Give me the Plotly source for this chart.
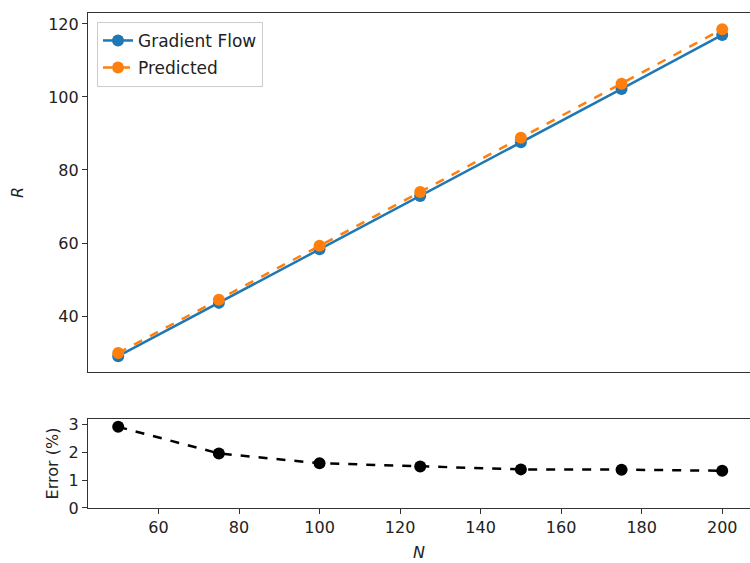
import plotly.graph_objects as go

N = [50, 75, 100, 125, 150, 175, 200]
R_gradient_flow = [29.0, 43.6, 58.3, 72.9, 87.6, 102.2, 117.0]
R_predicted = [29.84, 44.45, 59.23, 73.98, 88.81, 103.6, 118.56]
error_pct = [2.9, 1.95, 1.6, 1.48, 1.38, 1.37, 1.33]

blue = "#1f77b4"
orange = "#ff7f0e"
font = dict(family="DejaVu Sans", size=16, color="#222")
legend_font = dict(family="DejaVu Sans", size=17, color="#222")

fig = go.Figure()
fig.add_trace(go.Scatter(x=N, y=R_gradient_flow, name="Gradient Flow", mode="lines+markers",
                         legendgroup="a",
                         line=dict(color=blue, width=2.5), marker=dict(color=blue, size=12),
                         xaxis="x2", yaxis="y2"))
fig.add_trace(go.Scatter(x=N, y=R_predicted, name="Predicted", mode="lines+markers",
                         legendgroup="b",
                         line=dict(color=orange, width=2.5, dash="dash"), marker=dict(color=orange, size=12),
                         xaxis="x2", yaxis="y2"))
fig.add_trace(go.Scatter(x=N, y=error_pct, name="Error", mode="lines+markers", showlegend=False,
                         line=dict(color="black", width=2.5, dash="dash"), marker=dict(color="black", size=12),
                         xaxis="x", yaxis="y"))

xr = [42.5, 206.9]
axis_common = dict(showgrid=False, zeroline=False, linecolor="#333", linewidth=1.2,
                   ticks="outside", ticklen=5, tickcolor="#333", tickfont=font)

fig.update_layout(
    width=750, height=563,
    margin=dict(l=88, r=0, t=13, b=55),
    plot_bgcolor="white", paper_bgcolor="white",
    font=font,
    xaxis=dict(**axis_common, range=xr, domain=[0, 1], anchor="y", showline=True, mirror=True,
               tickvals=[60, 80, 100, 120, 140, 160, 180, 200],
               title=dict(text="<i>N</i>", font=font, standoff=10)),
    yaxis=dict(**axis_common, range=[0, 3.18], domain=[0, 0.1798], anchor="x", showline=True,
               tickvals=[0, 1, 2, 3],
               title=dict(text="Error (%)", font=font, standoff=5)),
    xaxis2=dict(showgrid=False, zeroline=False, linecolor="#333", linewidth=1.2, range=xr,
                domain=[0, 1], anchor="y2", showline=True, mirror=True, showticklabels=False,
                ticks="", matches="x"),
    yaxis2=dict(**axis_common, range=[24.66, 123.0], domain=[0.2747, 1], anchor="x2", showline=True,
                tickvals=[40, 60, 80, 100, 120],
                title=dict(text="<i>R</i>", font=font, standoff=20)),
    legend=dict(x=0.0136, y=0.982, xanchor="left", yanchor="top", bordercolor="#cccccc",
                borderwidth=1, bgcolor="rgba(255,255,255,0.8)", font=legend_font,
                tracegroupgap=2),
)

fig.write_html("out.html")
